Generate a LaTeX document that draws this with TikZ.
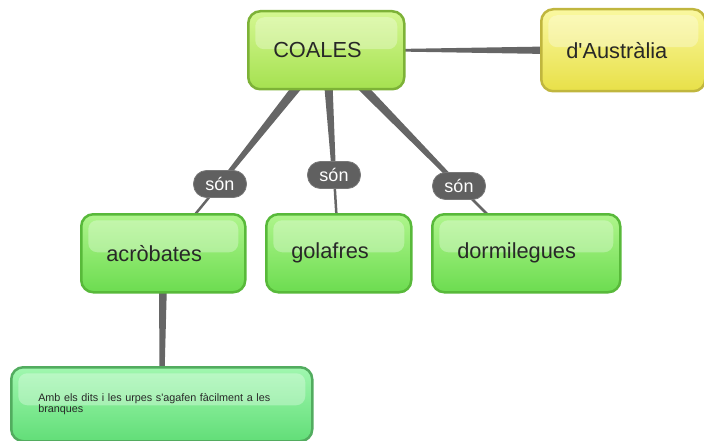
\documentclass[tikz,border=0pt]{standalone}
\usepackage{fontspec}
\setmainfont{Liberation Sans}[Ligatures=TeXOff]
\usetikzlibrary{calc}
\pgfdeclarelayer{background}
\pgfsetlayers{background,main}
\definecolor{conn}{RGB}{102,102,102}
\definecolor{txt}{RGB}{40,40,40}
\definecolor{cTop}{RGB}{212,247,145}
\definecolor{cBot}{RGB}{165,225,80}
\definecolor{cBrd}{RGB}{125,178,55}
\definecolor{yTop}{RGB}{250,248,160}
\definecolor{yBot}{RGB}{232,224,72}
\definecolor{yBrd}{RGB}{192,182,62}
\definecolor{gTop}{RGB}{175,245,140}
\definecolor{gBot}{RGB}{108,220,80}
\definecolor{gBrd}{RGB}{88,185,58}
\definecolor{mTop}{RGB}{160,247,175}
\definecolor{mBot}{RGB}{98,222,120}
\definecolor{mBrd}{RGB}{82,172,95}
\definecolor{pill}{RGB}{96,96,96}
\tikzset{
  x=1pt,y=-1pt,
  box/.style={rounded corners=12pt, line width=2.5pt, inner xsep=25pt, inner ysep=0pt,
    align=left, anchor=north west, text=txt, font=\fontsize{21.8}{26}\selectfont,
    path picture={\fill[white, opacity=0.3, rounded corners=9pt]
      ($(path picture bounding box.north west)+(7,6)$) rectangle
      ($(path picture bounding box.north east)+(-7,38)$);}},
  coalesbox/.style={box, draw=cBrd, top color=cTop, bottom color=cBot},
  yellowbox/.style={box, draw=yBrd, top color=yTop, bottom color=yBot},
  greenbox/.style={box, draw=gBrd, top color=gTop, bottom color=gBot},
  mintbox/.style={box, draw=mBrd, top color=mTop, bottom color=mBot, inner xsep=27pt,
    font=\fontsize{10.8}{10.5}\selectfont},
  pilllabel/.style={fill=pill, draw=pill!85!white, line width=0.8pt, rounded corners=13pt,
    text=white, minimum width=53pt, minimum height=27pt, inner sep=0pt,
    font=\fontsize{18}{20}\selectfont},
  thinconn/.style={draw=conn, line width=2.5pt}
}
\newcommand\taper[4]{%
  \fill[conn] ($(#1)!#3!90:(#2)$) -- ($(#2)!#4!-90:(#1)$) -- ($(#2)!#4!90:(#1)$) -- ($(#1)!#3!-90:(#2)$) -- cycle;}
\begin{document}
\begin{tikzpicture}
\useasboundingbox (0,0) rectangle (704,441);
\clip (0,0) rectangle (704,441);
% nodes
\node[coalesbox, text width=106pt, minimum height=78pt] (coales) at (247,10) {COALES};
\node[yellowbox, text width=114pt, minimum height=82pt] (aus) at (540,8) {d'Austràlia};
\node[greenbox, text width=114pt, minimum height=78pt] (acro) at (80,213) {acròbates};
\node[greenbox, text width=95pt, minimum height=78pt] (gola) at (265,213) {golafres};
\node[greenbox, text width=138pt, minimum height=78pt] (dorm) at (431,213) {dormilegues};
\node[mintbox, text width=247pt, minimum height=74pt] (amb) at (10,366) {Amb els dits i les urpes s'agafen fàcilment a les branques};
% labels
\node[pilllabel] (l1) at (220,184) {són};
\node[pilllabel] (l2) at (334,175) {són};
\node[pilllabel] (l3) at (459,186) {són};
% connectors
\begin{pgfonlayer}{background}
\taper{coales.center}{aus.center}{0.1pt}{5pt}
\taper{coales.center}{l1.center}{5.5pt}{2pt}
\taper{coales.center}{l2.center}{5pt}{2pt}
\taper{coales.center}{l3.center}{5.5pt}{2pt}
\draw[thinconn] (l1.center) -- (acro.center);
\draw[thinconn] (l2.center) -- (gola.center);
\draw[thinconn] (l3.center) -- (dorm.center);
\taper{acro.center}{amb.center}{4.5pt}{2pt}
\end{pgfonlayer}
\end{tikzpicture}
\end{document}
